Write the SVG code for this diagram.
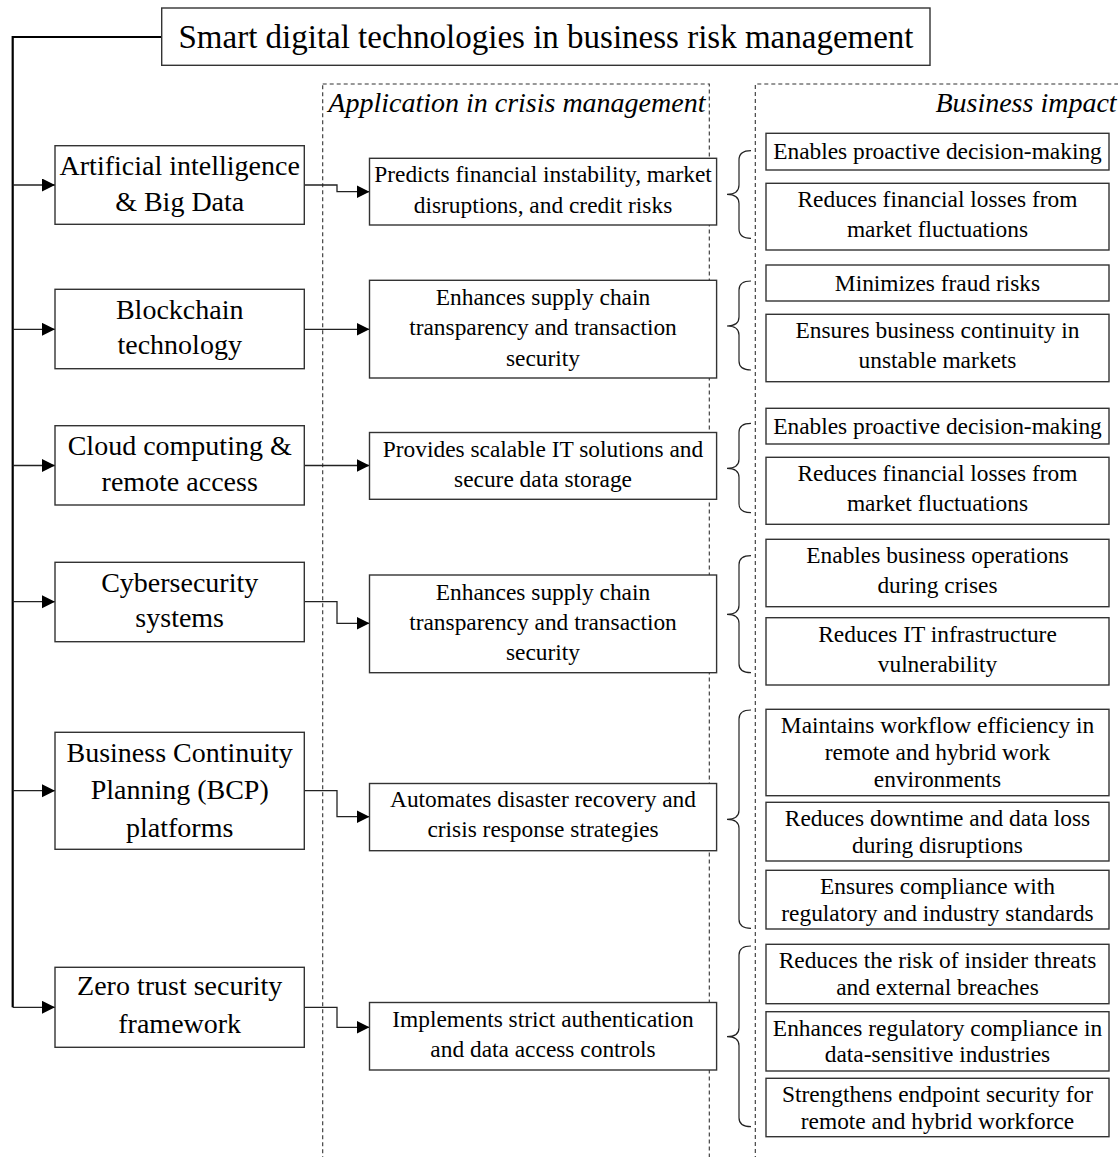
<svg xmlns="http://www.w3.org/2000/svg" width="1118" height="1157" viewBox="0 0 1118 1157">
<defs>
<style>
.box{fill:#fff;stroke:#333;stroke-width:1.4}
.col{fill:none;stroke:#333;stroke-width:1.1;stroke-dasharray:4 3}
.t{font-family:"Liberation Serif","Times New Roman",serif;fill:#000;text-anchor:middle}
.l{font-size:28px}
.m{font-size:23.4px}
.h{font-family:"Liberation Serif","Times New Roman",serif;font-style:italic;font-size:28px;fill:#000}
.con{fill:none;stroke:#222;stroke-width:1.3}
.main{fill:none;stroke:#000;stroke-width:2.2}
.br{fill:none;stroke:#222;stroke-width:1.2}
</style>
<marker id="ah" markerUnits="userSpaceOnUse" markerWidth="14" markerHeight="14" refX="13" refY="6.5" orient="auto">
<path d="M0,0 L13,6.5 L0,13 z" fill="#000"/>
</marker>
</defs>
<rect width="1118" height="1157" fill="#fff"/>

<!-- dashed columns -->
<g id="columns">
<rect class="col" x="322.7" y="84" width="386.6" height="1100"/>
<path class="col" d="M755.3,1160 V84 H1125"/>
<text class="h" x="328.3" y="112.3">Application in crisis management</text>
<text class="h" x="935.4" y="112">Business impact</text>
</g>

<!-- connectors -->
<g id="connectors">
<path class="main" d="M161.7,37 H12.7 V1007.3"/>
<path class="con" d="M12.7,185 H55" marker-end="url(#ah)"/>
<path class="con" d="M12.7,329.3 H55" marker-end="url(#ah)"/>
<path class="con" d="M12.7,465.5 H55" marker-end="url(#ah)"/>
<path class="con" d="M12.7,601.7 H55" marker-end="url(#ah)"/>
<path class="con" d="M12.7,790.7 H55" marker-end="url(#ah)"/>
<path class="con" d="M12.7,1007.3 H55" marker-end="url(#ah)"/>
<path class="con" d="M304.3,185 H337 V191.7 H369.5" marker-end="url(#ah)"/>
<path class="con" d="M304.3,329.3 H369.5" marker-end="url(#ah)"/>
<path class="con" d="M304.3,465.5 H369.5" marker-end="url(#ah)"/>
<path class="con" d="M304.3,601.7 H337 V623.3 H369.5" marker-end="url(#ah)"/>
<path class="con" d="M304.3,790.7 H337 V816.7 H369.5" marker-end="url(#ah)"/>
<path class="con" d="M304.3,1007.3 H337 V1027.3 H369.5" marker-end="url(#ah)"/>
<path class="br" d="M751,150.7 Q739,150.7 739,160 V185 Q739,194.3 727,194.3 Q739,194.3 739,203.6 V229 Q739,238.3 751,238.3"/>
<path class="br" d="M751,281 Q739,281 739,290 V317 Q739,326 727,326 Q739,326 739,335 V361 Q739,370 751,370"/>
<path class="br" d="M751,423.3 Q739,423.3 739,432.3 V459.3 Q739,468.3 727,468.3 Q739,468.3 739,477.3 V503.7 Q739,512.7 751,512.7"/>
<path class="br" d="M751,555.7 Q739,555.7 739,564.7 V605.3 Q739,614.3 727,614.3 Q739,614.3 739,623.3 V663.7 Q739,672.7 751,672.7"/>
<path class="br" d="M751,710 Q739,710 739,719 V810.3 Q739,819.3 727,819.3 Q739,819.3 739,828.3 V919.3 Q739,928.3 751,928.3"/>
<path class="br" d="M751,946 Q739,946 739,955 V1027.7 Q739,1036.7 727,1036.7 Q739,1036.7 739,1045.7 V1117.7 Q739,1126.7 751,1126.7"/>
</g>

<!-- title -->
<g id="title">
<rect class="box" x="161.7" y="8" width="768.3" height="57.3"/>
<text class="t" x="546" y="48.3" font-size="33">Smart digital technologies in business risk management</text>
</g>

<!-- left technology nodes -->
<g id="n-ai">
<rect class="box" x="55" y="145.7" width="249.3" height="78.6"/>
<text class="t l" x="179.7" y="175">Artificial intelligence</text>
<text class="t l" x="179.7" y="211.3">&amp; Big Data</text>
</g>
<g id="n-blockchain">
<rect class="box" x="55" y="289.3" width="249.3" height="79.4"/>
<text class="t l" x="179.7" y="318.7">Blockchain</text>
<text class="t l" x="179.7" y="354">technology</text>
</g>
<g id="n-cloud">
<rect class="box" x="55" y="425.7" width="249.3" height="79.3"/>
<text class="t l" x="179.7" y="455">Cloud computing &amp;</text>
<text class="t l" x="179.7" y="490.7">remote access</text>
</g>
<g id="n-cyber">
<rect class="box" x="55" y="562.3" width="249.3" height="79.4"/>
<text class="t l" x="179.7" y="591.7">Cybersecurity</text>
<text class="t l" x="179.7" y="627">systems</text>
</g>
<g id="n-bcp">
<rect class="box" x="55" y="732.3" width="249.3" height="117"/>
<text class="t l" x="179.7" y="761.7">Business Continuity</text>
<text class="t l" x="179.7" y="799.3">Planning (BCP)</text>
<text class="t l" x="179.7" y="836.7">platforms</text>
</g>
<g id="n-zero">
<rect class="box" x="55" y="967.3" width="249.3" height="80"/>
<text class="t l" x="179.7" y="995">Zero trust security</text>
<text class="t l" x="179.7" y="1032.7">framework</text>
</g>

<!-- application nodes -->
<g id="a-ai">
<rect class="box" x="369.5" y="158.3" width="347.1" height="66.7"/>
<text class="t m" x="543" y="181.5">Predicts financial instability, market</text>
<text class="t m" x="543" y="212.7">disruptions, and credit risks</text>
</g>
<g id="a-blockchain">
<rect class="box" x="369.5" y="280.3" width="347.1" height="97.7"/>
<text class="t m" x="543" y="305">Enhances supply chain</text>
<text class="t m" x="543" y="335.3">transparency and transaction</text>
<text class="t m" x="543" y="365.7">security</text>
</g>
<g id="a-cloud">
<rect class="box" x="369.5" y="432.5" width="347.1" height="66.8"/>
<text class="t m" x="543" y="456.7">Provides scalable IT solutions and</text>
<text class="t m" x="543" y="486.7">secure data storage</text>
</g>
<g id="a-cyber">
<rect class="box" x="369.5" y="575" width="347.1" height="97.7"/>
<text class="t m" x="543" y="599.7">Enhances supply chain</text>
<text class="t m" x="543" y="630">transparency and transaction</text>
<text class="t m" x="543" y="660.3">security</text>
</g>
<g id="a-bcp">
<rect class="box" x="369.5" y="783.5" width="347.1" height="67.2"/>
<text class="t m" x="543" y="807.3">Automates disaster recovery and</text>
<text class="t m" x="543" y="837">crisis response strategies</text>
</g>
<g id="a-zero">
<rect class="box" x="369.5" y="1002.5" width="347.1" height="67.5"/>
<text class="t m" x="543" y="1026.7">Implements strict authentication</text>
<text class="t m" x="543" y="1056.7">and data access controls</text>
</g>

<!-- impact nodes -->
<g id="r1">
<rect class="box" x="766" y="133.3" width="343" height="36.7"/>
<text class="t m" x="937.5" y="159.2">Enables proactive decision-making</text>
</g>
<g id="r2">
<rect class="box" x="766" y="183.3" width="343" height="66.7"/>
<text class="t m" x="937.5" y="207.4">Reduces financial losses from</text>
<text class="t m" x="937.5" y="237.4">market fluctuations</text>
</g>
<g id="r3">
<rect class="box" x="766" y="265" width="343" height="36"/>
<text class="t m" x="937.5" y="290.5">Minimizes fraud risks</text>
</g>
<g id="r4">
<rect class="box" x="766" y="314.3" width="343" height="67.4"/>
<text class="t m" x="937.5" y="338.3">Ensures business continuity in</text>
<text class="t m" x="937.5" y="368.3">unstable markets</text>
</g>
<g id="r5">
<rect class="box" x="766" y="408.3" width="343" height="35.7"/>
<text class="t m" x="937.5" y="433.6">Enables proactive decision-making</text>
</g>
<g id="r6">
<rect class="box" x="766" y="457.3" width="343" height="67"/>
<text class="t m" x="937.5" y="481.1">Reduces financial losses from</text>
<text class="t m" x="937.5" y="511.1">market fluctuations</text>
</g>
<g id="r7">
<rect class="box" x="766" y="539.3" width="343" height="67.4"/>
<text class="t m" x="937.5" y="563.3">Enables business operations</text>
<text class="t m" x="937.5" y="593.3">during crises</text>
</g>
<g id="r8">
<rect class="box" x="766" y="617.7" width="343" height="67.3"/>
<text class="t m" x="937.5" y="641.7">Reduces IT infrastructure</text>
<text class="t m" x="937.5" y="671.7">vulnerability</text>
</g>
<g id="r9">
<rect class="box" x="766" y="709.3" width="343" height="86.4"/>
<text class="t m" x="937.5" y="733">Maintains workflow efficiency in</text>
<text class="t m" x="937.5" y="760.3">remote and hybrid work</text>
<text class="t m" x="937.5" y="787">environments</text>
</g>
<g id="r10">
<rect class="box" x="766" y="802.3" width="343" height="58.7"/>
<text class="t m" x="937.5" y="826">Reduces downtime and data loss</text>
<text class="t m" x="937.5" y="853.3">during disruptions</text>
</g>
<g id="r11">
<rect class="box" x="766" y="870.3" width="343" height="58.7"/>
<text class="t m" x="937.5" y="894">Ensures compliance with</text>
<text class="t m" x="937.5" y="921.3">regulatory and industry standards</text>
</g>
<g id="r12">
<rect class="box" x="766" y="944.3" width="343" height="59.4"/>
<text class="t m" x="937.5" y="968.3">Reduces the risk of insider threats</text>
<text class="t m" x="937.5" y="995">and external breaches</text>
</g>
<g id="r13">
<rect class="box" x="766" y="1011.7" width="343" height="59.3"/>
<text class="t m" x="937.5" y="1035.7">Enhances regulatory compliance in</text>
<text class="t m" x="937.5" y="1062.4">data-sensitive industries</text>
</g>
<g id="r14">
<rect class="box" x="766" y="1078.3" width="343" height="58.4"/>
<text class="t m" x="937.5" y="1102">Strengthens endpoint security for</text>
<text class="t m" x="937.5" y="1128.7">remote and hybrid workforce</text>
</g>
</svg>
